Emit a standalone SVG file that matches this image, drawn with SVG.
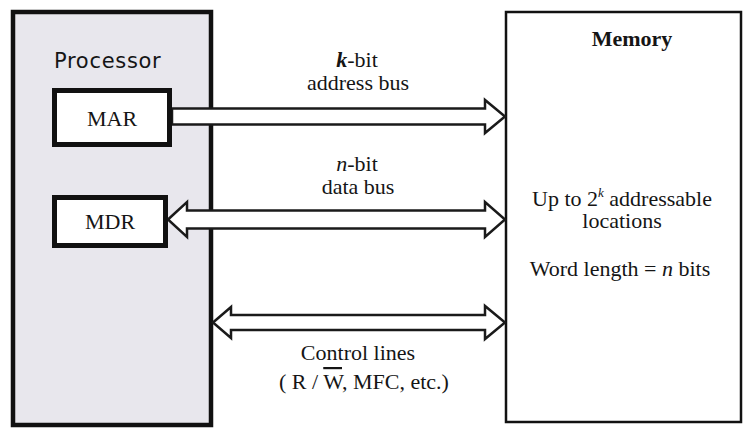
<svg xmlns="http://www.w3.org/2000/svg" width="744" height="428" viewBox="0 0 744 428">
  <style>
    .serif { font-family: "Liberation Serif", "Times New Roman", serif; font-size: 22px; fill: #151515; }
    .sans { font-family: "DejaVu Sans", "Liberation Sans", sans-serif; font-size: 21px; fill: #151515; }
    .bus { fill: #ffffff; stroke: #1a1a1a; stroke-width: 2.5; stroke-linejoin: miter; }
    .reg { fill: #ffffff; stroke: #111111; stroke-width: 5; }
  </style>
  <rect x="0" y="0" width="744" height="428" fill="#ffffff"/>

  <g id="processor">
    <rect x="13" y="12" width="198" height="413" fill="#e8e7ed" stroke="#111111" stroke-width="4.5"/>
    <text class="sans" x="54" y="68" letter-spacing="0.7">Processor</text>
  </g>

  <g id="memory">
    <rect x="506" y="12" width="235" height="410" fill="#ffffff" stroke="#111111" stroke-width="2.5"/>
    <text class="serif" font-family="Liberation Serif, serif" x="632" y="46" text-anchor="middle" font-weight="bold">Memory</text>
    <text class="serif" font-family="Liberation Serif, serif" x="622" y="206" text-anchor="middle">Up to 2<tspan dy="-9" font-size="13" font-style="italic">k</tspan><tspan dy="9"> addressable</tspan></text>
    <text class="serif" font-family="Liberation Serif, serif" x="622" y="228" text-anchor="middle">locations</text>
    <text class="serif" font-family="Liberation Serif, serif" x="620" y="276" text-anchor="middle">Word length = <tspan font-style="italic">n</tspan> bits</text>
  </g>

  <g id="connectors">
    <polygon class="bus" points="172,108.5 485,108.5 485,100 505,116.5 485,133 485,124.5 172,124.5"/>
    <polygon class="bus" points="168,219.5 187,202 187,210.5 485,210.5 485,202 505,219.5 485,237 485,228.5 187,228.5 187,237"/>
    <polygon class="bus" points="213,322.5 231,307 231,315 485,315 485,306 505,322.5 485,339 485,330 231,330 231,338"/>
  </g>

  <g id="MAR">
    <rect class="reg" x="54.5" y="90.5" width="115" height="54"/>
    <text class="serif" font-family="Liberation Serif, serif" x="112" y="126" text-anchor="middle">MAR</text>
  </g>

  <g id="MDR">
    <rect class="reg" x="54.5" y="197.5" width="111" height="48"/>
    <text class="serif" font-family="Liberation Serif, serif" x="110" y="229" text-anchor="middle">MDR</text>
  </g>

  <g id="labels" font-family="Liberation Serif, serif">
    <text class="serif" x="357" y="67" text-anchor="middle"><tspan font-style="italic" font-weight="bold">k</tspan>-bit</text>
    <text class="serif" x="358" y="90" text-anchor="middle">address bus</text>
    <text class="serif" x="357" y="171" text-anchor="middle"><tspan font-style="italic">n</tspan>-bit</text>
    <text class="serif" x="358" y="194" text-anchor="middle">data bus</text>
    <text class="serif" x="358" y="360" text-anchor="middle">Control lines</text>
    <text class="serif" x="364" y="389" text-anchor="middle">( R / <tspan text-decoration="overline">W</tspan>, MFC, etc.)</text>
  </g>
</svg>
